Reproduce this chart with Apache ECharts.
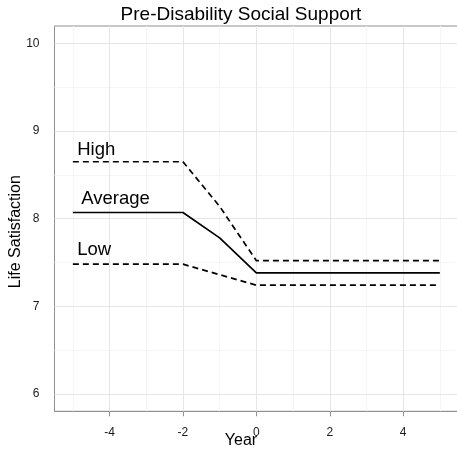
<!DOCTYPE html>
<html>
<head>
<meta charset="utf-8">
<title>Pre-Disability Social Support</title>
<script src="https://cdn.jsdelivr.net/npm/echarts@6/dist/echarts.min.js"></script>
<style>
  html, body { margin: 0; padding: 0; background: #ffffff; }
  #chart { width: 457px; height: 451px; }
</style>
</head>
<body>
<div id="chart"></div>
<script>
// Years relative to disability onset
const years = [-5, -4, -3, -2, -1, 0, 1, 2, 3, 4, 5];

// Predicted life satisfaction by level of pre-disability social support
const highSupport = [8.65, 8.65, 8.65, 8.65, 8.14, 7.52, 7.52, 7.52, 7.52, 7.52, 7.52];
const averageSupport = [8.07, 8.07, 8.07, 8.07, 7.78, 7.38, 7.38, 7.38, 7.38, 7.38, 7.38];
const lowSupport = [7.48, 7.48, 7.48, 7.48, 7.36, 7.24, 7.24, 7.24, 7.24, 7.24, 7.24];

// Line annotations (left edge x, vertical centre y)
const labelText = ['High', 'Average', 'Low'];
const labelX = [-4.88, -4.77, -4.88];
const labelY = [8.79, 8.22, 7.64];

// Axis ticks and grid lines
const xTicks = [-4, -2, 0, 2, 4];
const xMinor = [-5, -3, -1, 1, 3, 5];
const yTicks = [6, 7, 8, 9, 10];
const yMinor = [6.5, 7.5, 8.5, 9.5];

const FONT = 'Liberation Sans, Arial, Helvetica, sans-serif';
const majorGrid = '#e6e6e6';
const minorGrid = '#f5f5f5';
const axisGrey = '#8f8f8f';

const pair = (xs, ys) => xs.map((x, i) => [x, ys[i]]);

function gridLines(values, key, color) {
  return values.map(v => ({ [key]: v, lineStyle: { color: color, width: 1, type: 'solid' } }));
}

const lineStyleFor = (dashed) => ({
  color: '#000000',
  width: 1.7,
  type: dashed ? [6, 4] : 'solid',
  cap: 'butt'
});

const chart = echarts.init(document.getElementById('chart'), null, { renderer: 'canvas' });

chart.setOption({
  animation: false,
  backgroundColor: '#ffffff',
  textStyle: { fontFamily: FONT },
  title: [
    {
      text: 'Pre-Disability Social Support',
      left: 241,
      top: 5,
      textAlign: 'center',
      padding: 0,
      textStyle: { fontSize: 19, fontWeight: 'normal', color: '#000000', fontFamily: FONT }
    },
    {
      text: 'Year',
      left: 241,
      top: 433,
      textAlign: 'center',
      padding: 0,
      textStyle: { fontSize: 16, fontWeight: 'normal', color: '#000000', fontFamily: FONT }
    }
  ],
  grid: {
    left: 54.5,
    right: -1.2,
    top: 26,
    bottom: 39.7,
    containLabel: false,
    outerBoundsMode: 'none',
    show: true,
    borderColor: axisGrey,
    borderWidth: 1,
    backgroundColor: '#ffffff'
  },
  xAxis: {
    type: 'value',
    min: -5.5,
    max: 5.5,
    axisLine: { show: true, lineStyle: { color: axisGrey, width: 1 } },
    axisTick: { show: true, length: 5, inside: false, customValues: xTicks, lineStyle: { color: axisGrey, width: 1 } },
    axisLabel: {
      customValues: xTicks,
      margin: 15,
      fontSize: 12,
      color: '#1a1a1a',
      fontFamily: FONT
    },
    splitLine: { show: false }
  },
  yAxis: {
    type: 'value',
    min: 5.8,
    max: 10.2,
    name: 'Life Satisfaction',
    nameLocation: 'middle',
    nameRotate: 90,
    nameGap: 31,
    nameMoveOverlap: false,
    nameTextStyle: { fontSize: 16, color: '#000000', fontFamily: FONT, padding: [0, 26, 0, 0] },
    axisLine: { show: true, lineStyle: { color: axisGrey, width: 1 } },
    axisTick: { show: true, length: 5, inside: false, customValues: yTicks, lineStyle: { color: axisGrey, width: 1 } },
    axisLabel: {
      customValues: yTicks,
      margin: 15,
      fontSize: 12,
      color: '#1a1a1a',
      fontFamily: FONT
    },
    splitLine: { show: false }
  },
  series: [
    {
      // panel grid: minor lines first, then major lines, kept beneath the data
      name: 'grid',
      type: 'line',
      data: [],
      silent: true,
      z: 1,
      markLine: {
        silent: true,
        z: 1,
        symbol: 'none',
        label: { show: false },
        animation: false,
        data: [
          ...gridLines(xMinor, 'xAxis', minorGrid),
          ...gridLines(yMinor, 'yAxis', minorGrid),
          ...gridLines(xTicks, 'xAxis', majorGrid),
          ...gridLines(yTicks, 'yAxis', majorGrid)
        ]
      }
    },
    {
      name: 'High',
      type: 'line',
      data: pair(years, highSupport),
      showSymbol: false,
      symbol: 'none',
      z: 3,
      lineStyle: lineStyleFor(true)
    },
    {
      name: 'Average',
      type: 'line',
      data: pair(years, averageSupport),
      showSymbol: false,
      symbol: 'none',
      z: 3,
      lineStyle: lineStyleFor(false)
    },
    {
      name: 'Low',
      type: 'line',
      data: pair(years, lowSupport),
      showSymbol: false,
      symbol: 'none',
      z: 3,
      lineStyle: lineStyleFor(true)
    },
    {
      name: 'labels',
      type: 'scatter',
      symbolSize: 0,
      silent: true,
      z: 4,
      itemStyle: { opacity: 1 },
      data: labelText.map((t, i) => ({ name: t, value: [labelX[i], labelY[i]] })),
      label: {
        show: true,
        position: 'right',
        distance: 0,
        formatter: p => p.name,
        fontSize: 18.5,
        color: '#000000',
        opacity: 1,
        textBorderWidth: 0,
        fontFamily: FONT
      }
    }
  ]
});
</script>
</body>
</html>
